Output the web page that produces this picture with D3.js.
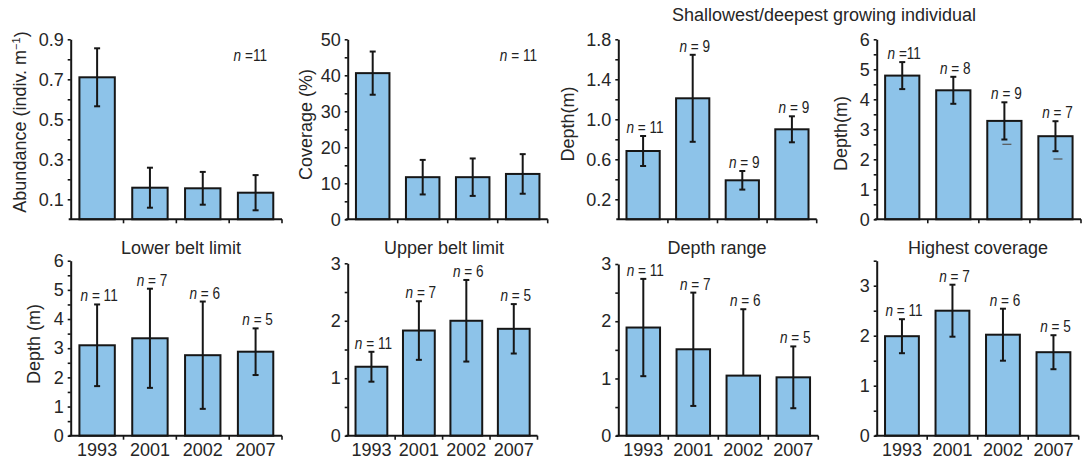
<!DOCTYPE html>
<html>
<head>
<meta charset="utf-8">
<script src="https://cdn.jsdelivr.net/npm/d3@7"></script>
<style>
  body { margin: 0; background: #fff; }
  svg { display: block; font-family: "Liberation Sans", Arial, Helvetica, sans-serif; }
  .nlab { font-size: 17px; fill: #222; }
</style>
</head>
<body>
<svg id="chart" width="1086" height="462"></svg>
<script>
// ---- data ----
var years = ["1993", "2001", "2002", "2007"];

var abundMean = [0.71, 0.158, 0.155, 0.133];
var abundSd   = [0.145, 0.10, 0.082, 0.088];

var coverMean = [40.6, 11.7, 11.7, 12.6];
var coverSd   = [6.0, 4.8, 5.2, 5.5];

var shallowMean = [0.683, 1.21, 0.39, 0.90];
var shallowSd   = [0.15, 0.435, 0.093, 0.13];
var shallowN    = ["= 11", "= 9", "= 9", "= 9"];

var deepMean = [4.79, 4.30, 3.28, 2.77];
var deepSd   = [0.45, 0.45, 0.62, 0.50];
var deepN    = ["=11", "= 8", "= 9", "= 7"];
var deepStray = [null, null, 2.5, 2.01];   // faint dashes below two whiskers

var lowerMean = [3.10, 3.34, 2.76, 2.88];
var lowerSd   = [1.40, 1.70, 1.84, 0.80];

var upperMean = [1.20, 1.83, 2.00, 1.86];
var upperSd   = [0.26, 0.51, 0.71, 0.43];

var rangeMean = [1.89, 1.51, 1.05, 1.02];
var rangeSd   = [0.85, 0.99, 1.16, 0.54];
var rangeNoLow = [false, false, true, false];

var highMean = [1.99, 2.50, 2.02, 1.67];
var highSd   = [0.34, 0.52, 0.52, 0.34];

var beltN = ["= 11", "= 7", "= 6", "= 5"];

// tick labels
var ticksAbund = [0.1, 0.3, 0.5, 0.7, 0.9], minorAbund = [0.2, 0.4, 0.6, 0.8];
var ticksCover = [0, 10, 20, 30, 40, 50], minorCover = [5, 15, 25, 35, 45];
var ticksShallow = [0.2, 0.6, 1.0, 1.4, 1.8], minorShallow = [0.4, 0.8, 1.2, 1.6];
var ticks6 = [0, 1, 2, 3, 4, 5, 6], minor6 = [0.5, 1.5, 2.5, 3.5, 4.5, 5.5];
var ticks3 = [0, 1, 2, 3], minor3 = [0.5, 1.5, 2.5];
var minor35 = [0.5, 1.5, 2.5, 3.5];

// ---- layout ----
var panels = [
  { mean: abundMean, sd: abundSd, domain: [0, 0.9], major: ticksAbund, minor: minorAbund, fmt: ".1f",
    x0: 70.7, x1: 282, yTop: 39.3, yBase: 219.3, ylabel: "abund", ylx: 20, yly: 122,
    corner: "=11", cornerX: 267 },
  { mean: coverMean, sd: coverSd, domain: [0, 50], major: ticksCover, minor: minorCover, fmt: "d",
    x0: 347.7, x1: 547.7, yTop: 39.3, yBase: 219.3, ylabel: "Coverage (%)", ylx: 306, yly: 124.5,
    corner: "= 11", cornerX: 537 },
  { mean: shallowMean, sd: shallowSd, domain: [0, 1.8], major: ticksShallow, minor: minorShallow, fmt: ".1f",
    x0: 618.3, x1: 816.7, yTop: 39.3, yBase: 219.3, ylabel: "Depth(m)", ylx: 568, yly: 124,
    n: shallowN },
  { mean: deepMean, sd: deepSd, domain: [0, 6], major: ticks6, minor: minor6, fmt: "d",
    x0: 876.7, x1: 1081, yTop: 39.3, yBase: 219.3, ylabel: "Depth(m)", ylx: 841, yly: 133.5,
    n: deepN, stray: deepStray },
  { mean: lowerMean, sd: lowerSd, domain: [0, 6], major: ticks6, minor: minor6, fmt: "d",
    x0: 70.7, x1: 282, yTop: 260.7, yBase: 435.7, ylabel: "Depth (m)", ylx: 34, yly: 344,
    n: beltN, title: "Lower belt limit", tx: 181, years: true },
  { mean: upperMean, sd: upperSd, domain: [0, 3], major: ticks3, minor: minor3, fmt: "d",
    x0: 347.7, x1: 537.5, yTop: 263.3, yBase: 435.7,
    n: beltN, title: "Upper belt limit", tx: 444, years: true },
  { mean: rangeMean, sd: rangeSd, noLow: rangeNoLow, domain: [0, 3], major: ticks3, minor: minor3, fmt: "d",
    x0: 618.3, x1: 818.3, yTop: 264, yBase: 435.7,
    n: beltN, title: "Depth range", tx: 717, years: true },
  { mean: highMean, sd: highSd, domain: [0, 3.5], major: ticks3, minor: minor35, fmt: "d",
    x0: 876.7, x1: 1078.7, yTop: 260.7, yBase: 435.7,
    n: beltN, title: "Highest coverage", tx: 978, years: true }
];

var svg = d3.select("#chart");
var ink = "#161616", txt = "#262626";

// narrow "n = .." label, squeezed horizontally like the condensed face of the original
function nLabel(g, x, y, rest, anchor) {
  var t = g.append("text").attr("class", "nlab")
    .attr("transform", "translate(" + x + "," + y + ") scale(0.8,1)")
    .attr("text-anchor", anchor);
  t.append("tspan").attr("font-style", "italic").text("n");
  t.append("tspan").text(" " + rest);
}

function drawPanel(p) {
  var g = svg.append("g");
  var x = d3.scaleBand().domain(years).range([p.x0, p.x1]).paddingInner(0.33).paddingOuter(0.165);
  var y = d3.scaleLinear().domain(p.domain).range([p.yBase, p.yTop]);
  var cx = function(i) { return x(years[i]) + x.bandwidth() / 2; };

  // bars
  g.selectAll("rect.bar").data(p.mean).enter().append("rect")
    .attr("class", "bar")
    .attr("x", function(d, i) { return x(years[i]); })
    .attr("y", function(d) { return y(d); })
    .attr("width", x.bandwidth())
    .attr("height", function(d) { return y(0) - y(d); })
    .attr("fill", "#8dc3e9")
    .attr("stroke", ink)
    .attr("stroke-width", 2);

  // error bars
  p.mean.forEach(function(m, i) {
    var hi = y(m + p.sd[i]);
    var noLow = p.noLow && p.noLow[i];
    var lo = noLow ? y(m) : y(m - p.sd[i]);
    var eb = g.append("g").attr("stroke", ink).attr("stroke-width", 2);
    eb.append("line").attr("x1", cx(i)).attr("x2", cx(i)).attr("y1", hi).attr("y2", lo);
    eb.append("line").attr("x1", cx(i) - 3).attr("x2", cx(i) + 3).attr("y1", hi).attr("y2", hi);
    if (!noLow) eb.append("line").attr("x1", cx(i) - 3).attr("x2", cx(i) + 3).attr("y1", lo).attr("y2", lo);
  });

  if (p.stray) {
    p.stray.forEach(function(v, i) {
      if (v == null) return;
      g.append("line").attr("x1", cx(i) - 2).attr("x2", cx(i) + 7)
        .attr("y1", y(v)).attr("y2", y(v))
        .attr("stroke", "#555").attr("stroke-width", 1.2);
    });
  }

  // y axis
  var yAxis = d3.axisLeft(y)
    .tickValues(p.major.concat(p.minor))
    .tickSize(3).tickSizeOuter(0).tickPadding(4)
    .tickFormat(function(d) { return p.major.indexOf(d) >= 0 ? d3.format(p.fmt)(d) : ""; });
  var ya = g.append("g").attr("transform", "translate(" + p.x0 + ",0)").call(yAxis);
  ya.select(".domain").attr("stroke", ink).attr("stroke-width", 2);
  ya.selectAll(".tick line").attr("stroke", ink).attr("stroke-width", 1.6);
  ya.selectAll("text").attr("font-size", 18).attr("fill", txt).attr("font-family", null);

  // x axis line and ticks between the years
  g.append("line").attr("x1", p.x0 - 2).attr("x2", p.x1).attr("y1", y(0)).attr("y2", y(0))
    .attr("stroke", ink).attr("stroke-width", 2);
  g.selectAll("line.xt").data(d3.range(1, years.length + 1)).enter().append("line")
    .attr("class", "xt")
    .attr("x1", function(i) { return p.x0 + i * x.step(); })
    .attr("x2", function(i) { return p.x0 + i * x.step(); })
    .attr("y1", y(0)).attr("y2", y(0) + 4)
    .attr("stroke", ink).attr("stroke-width", 1.6);

  if (p.years) {
    var xa = g.append("g").attr("transform", "translate(0," + y(0) + ")")
      .call(d3.axisBottom(x).tickSize(0).tickPadding(8));
    xa.select(".domain").remove();
    xa.selectAll("text").attr("font-size", 18).attr("fill", txt).attr("font-family", null);
  }

  // y label
  if (p.ylabel) {
    var yl = g.append("text")
      .attr("transform", "translate(" + p.ylx + "," + p.yly + ") rotate(-90)")
      .attr("text-anchor", "middle").attr("dy", "0.35em")
      .attr("font-size", 18).attr("fill", txt);
    if (p.ylabel === "abund") {
      yl.append("tspan").text("Abundance (indiv. m");
      yl.append("tspan").attr("font-size", 11).attr("dy", "-0.55em").text("\u22121");
      yl.append("tspan").attr("dy", "0.35em").text(")");
    } else {
      yl.text(p.ylabel);
    }
  }

  // title
  if (p.title) {
    g.append("text").attr("x", p.tx).attr("y", 254).attr("text-anchor", "middle")
      .attr("font-size", 18).attr("fill", txt).text(p.title);
  }

  // n labels over the whiskers
  if (p.n) {
    p.n.forEach(function(d, i) {
      nLabel(g, cx(i) + 2, y(p.mean[i] + p.sd[i]) - 3, d, "middle");
    });
  }
  if (p.corner) nLabel(g, p.cornerX, 60.7, p.corner, "end");
}

panels.forEach(drawPanel);

svg.append("text").attr("x", 824).attr("y", 21.4).attr("text-anchor", "middle")
  .attr("font-size", 18).attr("fill", txt).text("Shallowest/deepest growing individual");
</script>
</body>
</html>
